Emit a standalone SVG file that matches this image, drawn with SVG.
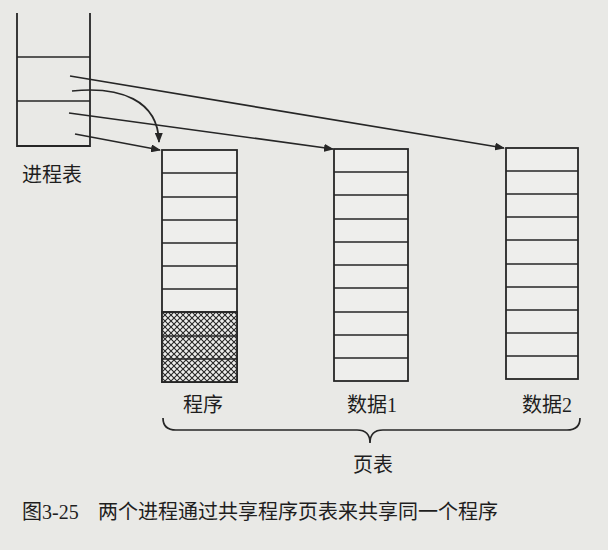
<svg xmlns="http://www.w3.org/2000/svg" width="608" height="550" viewBox="0 0 608 550">
<style>
.ln{fill:none;stroke:#262626;stroke-width:1.8}
.row{stroke:#262626;stroke-width:1.6}
.box{fill:#eeeeec;stroke:#262626;stroke-width:1.8}
.t{font-family:"Liberation Serif","Noto Sans CJK SC",serif;font-size:20px;fill:#1e1e1e}
.c{fill:none;stroke:#262626;stroke-width:1.7}
</style>
<defs>
<marker id="ah" markerWidth="10" markerHeight="8" refX="9" refY="4" orient="auto" markerUnits="userSpaceOnUse">
<path d="M0,0 L10,4 L0,8 Z" fill="#262626"/>
</marker>
<pattern id="hatch" width="6" height="6" patternUnits="userSpaceOnUse">
<rect width="6" height="6" fill="#eeeeec"/>
<path d="M0,0 L6,6 M6,0 L0,6" stroke="#262626" stroke-width="1.1"/>
</pattern>
</defs>
<rect width="608" height="550" fill="#e9e9e6"/>

<g id="process-table">
<path class="ln" d="M17,13 L17,146 L90,146 L90,13"/>
<line class="row" x1="17" y1="57" x2="90" y2="57"/>
<line class="row" x1="17" y1="101" x2="90" y2="101"/>
<text class="t" x="22" y="182">进程表</text>
</g>

<g id="program">
<rect class="box" x="162" y="150" width="75" height="232"/>
<rect x="162" y="312" width="75" height="70" fill="url(#hatch)" stroke="#262626" stroke-width="1.8"/>
<path class="row" d="M162,173H237M162,197H237M162,220H237M162,243H237M162,266H237M162,289H237M162,312H237M162,336H237M162,359H237"/>
<text class="t" x="183" y="412">程序</text>
</g>

<g id="data1">
<rect class="box" x="334" y="149" width="74" height="232"/>
<path class="row" d="M334,172H408M334,195H408M334,219H408M334,242H408M334,265H408M334,288H408M334,312H408M334,335H408M334,358H408"/>
<text class="t" x="347" y="412">数据1</text>
</g>

<g id="data2">
<rect class="box" x="506" y="148" width="72" height="231"/>
<path class="row" d="M506,171H578M506,194H578M506,217H578M506,240H578M506,264H578M506,287H578M506,310H578M506,333H578M506,356H578"/>
<text class="t" x="522" y="412">数据2</text>
</g>

<g id="page-tables-brace">
<path class="c" d="M163,418 Q163,430 176,430 L357,430 Q370,430 370,443 Q370,430 383,430 L567,430 Q580,430 580,418"/>
<text class="t" x="353" y="472">页表</text>
</g>

<g id="connectors">
<line class="c" x1="70" y1="76" x2="504" y2="148" marker-end="url(#ah)"/>
<path class="c" d="M72,91 C120,86 158,100 159,142" marker-end="url(#ah)"/>
<line class="c" x1="69" y1="113" x2="333" y2="149" marker-end="url(#ah)"/>
<line class="c" x1="75" y1="134" x2="160" y2="150" marker-end="url(#ah)"/>
</g>

<g id="caption">
<text class="t" x="22" y="519">图3-25<tspan x="98">两个进程通过共享程序页表来共享同一个程序</tspan></text>
</g>
</svg>
